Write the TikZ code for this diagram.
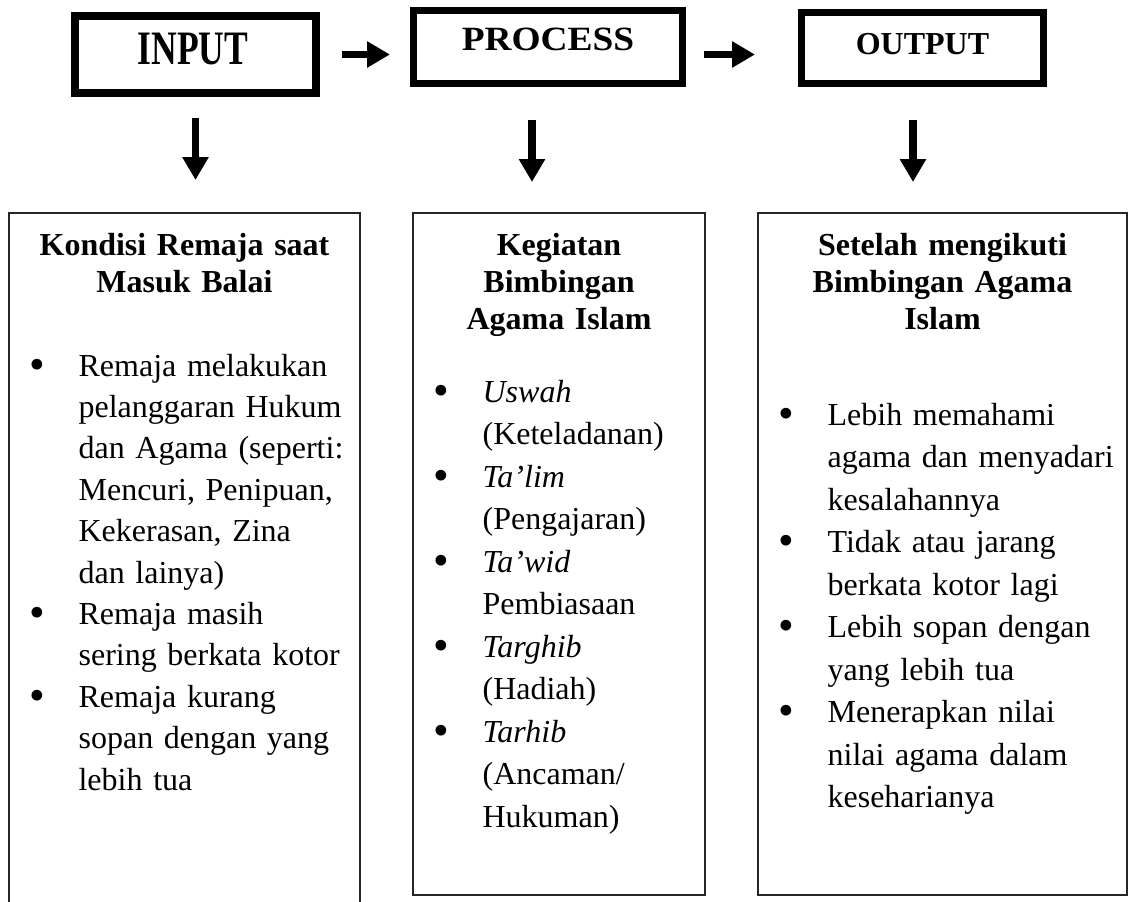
\documentclass[tikz,border=0pt]{standalone}
\usepackage{fontspec}
\setmainfont{Liberation Serif}
\usetikzlibrary{arrows.meta}
\newcommand{\itm}{\makebox[0pt][r]{\raisebox{-1.5pt}{\scalebox{1.4}{\textbullet}}\hspace{16.5pt}}}

\begin{document}
\begin{tikzpicture}[x = 0.5pt, y = -0.5pt, semithick,
            stage/.style ={rectangle, draw, line width = 3.3pt, inner sep = 0pt},
            panel/.style ={rectangle, draw = black!85, line width = 1.1pt, inner sep = 0pt, outer sep = 0pt, anchor = north west},
            heading/.style ={anchor = base, inner sep = 0pt, text width = 180pt, align = center, font = \fontsize{16}{18.5}\selectfont\bfseries},
            items/.style ={anchor = base west, inner sep = 0pt, text width = 150pt, align = left, font = \fontsize{16}{21.25}\selectfont},
            flow/.style ={line width = 3.75pt, -{Triangle[length = 11.5pt, width = 12.5pt]}}]

            \useasboundingbox (0, 0) rectangle (1130, 901);

            %cajas de arriba
            \node[stage, line width = 4pt, minimum width = 120.5pt, minimum height = 38.5pt,
                label = {[xshift = -1.25pt, yshift = 2.5pt, font = \fontsize{24}{26}\selectfont\bfseries]center:\scalebox{0.74}[1]{INPUT}}] (inp) at (195.5, 54.5) {};
            \node[stage, minimum width = 134.7pt, minimum height = 36.7pt,
                label = {[yshift = 4pt, font = \fontsize{17}{19}\selectfont\bfseries]center:\scalebox{1.1}[1]{PROCESS}}] (proc) at (548, 47) {};
            \node[stage, minimum width = 121.2pt, minimum height = 35.7pt,
                label = {[yshift = 2pt, font = \fontsize{16}{18}\selectfont\bfseries]center:OUTPUT}] (outp) at (922.5, 48) {};

            %cajas de abajo
            \node[panel, minimum width = 175.5pt, minimum height = 373.5pt] (kondisi) at (9, 213) {};
            \node[panel, minimum width = 146pt, minimum height = 341pt] (kegiatan) at (413, 213) {};
            \node[panel, minimum width = 184.5pt, minimum height = 341pt] (hasil) at (758, 213) {};

            \node[heading] (kondisiT) at (184.5, 255) {Kondisi Remaja saat\\ Masuk Balai};
            \node[items, font = \fontsize{16}{20.7}\selectfont] (kondisiL) at (78, 376) {\itm Remaja melakukan\\ pelanggaran Hukum\\ dan Agama (seperti:\\ Mencuri, Penipuan,\\ Kekerasan, Zina\\ dan lainya)\\
                \itm Remaja masih\\ sering berkata kotor\\
                \itm Remaja kurang\\ sopan dengan yang\\ lebih tua};

            \node[heading] (kegiatanT) at (559, 255) {Kegiatan\\ Bimbingan\\ Agama Islam};
            \node[items] (kegiatanL) at (482, 402) {\itm \textit{Uswah}\\ (Keteladanan)\\
                \itm \textit{Ta’lim}\\ (Pengajaran)\\
                \itm \textit{Ta’wid}\\ Pembiasaan\\
                \itm \textit{Targhib}\\ (Hadiah)\\
                \itm \textit{Tarhib}\\ (Ancaman/\\ Hukuman)};

            \node[heading] (hasilT) at (942.5, 255) {Setelah mengikuti\\ Bimbingan Agama\\ Islam};
            \node[items] (hasilL) at (827, 425) {\itm Lebih memahami\\ agama dan menyadari\\ kesalahannya\\
                \itm Tidak atau jarang\\ berkata kotor lagi\\
                \itm Lebih sopan dengan\\ yang lebih tua\\
                \itm Menerapkan nilai\\ nilai agama dalam\\ keseharianya};

            %flechas
            \draw[flow, shorten < = 11pt, shorten > = 10pt] (inp.east) -- (inp.east -| proc.west);
            \draw[flow, shorten < = 9pt, shorten > = 21.5pt] (proc.east |- inp.east) -- (outp.west |- inp.east);

            \draw[flow, shorten < = 10.5pt, shorten > = 16.5pt] (inp.south) -- (inp.south |- kondisi.north);
            \draw[flow, shorten < = 16.5pt, shorten > = 15.5pt] ([xshift = -8pt]proc.south) -- ([xshift = -8pt]proc.south |- kegiatan.north);
            \draw[flow, shorten < = 16.5pt, shorten > = 15.5pt] ([xshift = -4.75pt]outp.south) -- ([xshift = -4.75pt]outp.south |- hasil.north);
        \end{tikzpicture}
\end{document}
